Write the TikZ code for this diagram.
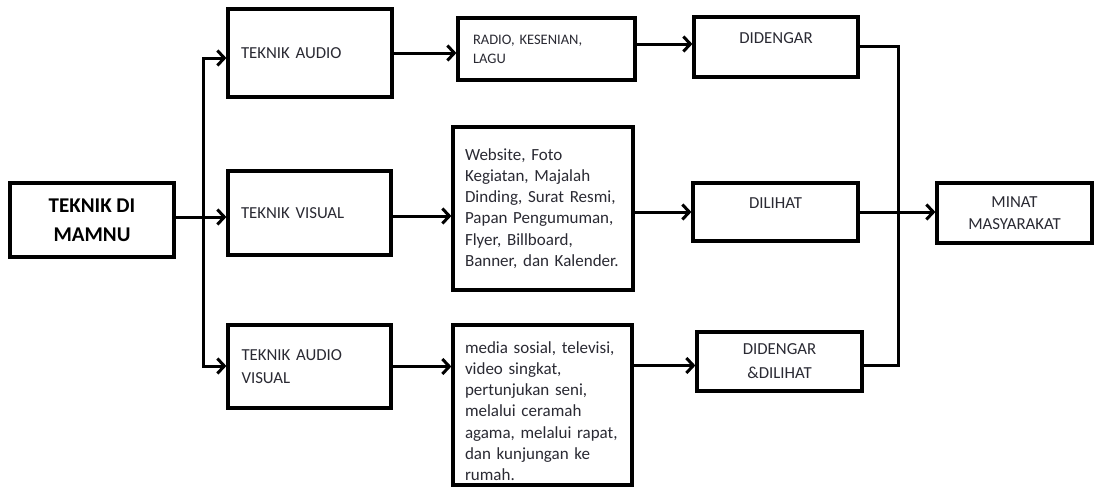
\documentclass[tikz,border=0pt]{standalone}
\usepackage{fontspec}
\setmainfont{Carlito}
\usetikzlibrary{arrows.meta}
\definecolor{ink}{HTML}{2A2A33}
\begin{document}
\begin{tikzpicture}[x=1pt,y=-1pt,
  box/.style={draw=black, line width=3.2pt, inner ysep=0pt, text=ink},
  lbox/.style 2 args={box, minimum width=#1, minimum height=#2, align=left},
  cbox/.style 2 args={box, minimum width=#1, minimum height=#2, align=center},
  lbl/.style={font=\fontsize{16.8}{22.5}\selectfont},
  small/.style={font=\fontsize{14.5}{19}\selectfont},
  list/.style={font=\fontsize{17}{21.3}\selectfont},
  wire/.style={line width=3pt, draw=black},
  arr/.style={wire, -{Straight Barb[length=7pt,width=15pt]}},
  darr/.style={wire, {Straight Barb[length=7pt,width=15pt]}-{Straight Barb[length=7pt,width=15pt]}}]
\fill[white] (0,0) rectangle (1095,493);
\useasboundingbox (0,0) rectangle (1095,493);

% source
\node[cbox={164pt}{74pt}, text=black, font=\bfseries\fontsize{21}{29}\selectfont] (mamnu) at (92,220) {TEKNIK DI\\MAMNU};

% techniques
\node[lbox={164pt}{88pt}, lbl, inner xsep=13pt, text width=138pt] (taudio) at (310,53) {TEKNIK AUDIO};
\node[lbox={163pt}{84pt}, lbl, inner xsep=13pt, text width=137pt] (tvis) at (309.5,213) {TEKNIK VISUAL};
\node[lbox={163pt}{83pt}, lbl, inner xsep=13.5pt, text width=136pt, font=\fontsize{16.8}{23}\selectfont] (tav) at (309.5,366.5) {TEKNIK AUDIO\\VISUAL};

% media
\node[lbox={177pt}{62pt}, small, inner xsep=15pt, text width=147pt] (radio) at (546.5,49) {RADIO, KESENIAN,\\LAGU};
\node[lbox={180pt}{163pt}, list, inner xsep=12pt, text width=156pt] (web) at (543,208.5)
  {Website, Foto\\Kegiatan, Majalah\\Dinding, Surat Resmi,\\Papan Pengumuman,\\Flyer, Billboard,\\Banner, dan Kalender.};
\node[lbox={179pt}{160pt}, list, inner xsep=12pt, text width=155pt, text height=24pt] (media) at (542.5,405)
  {media sosial, televisi,\\video singkat,\\pertunjukan seni,\\melalui ceramah\\agama, melalui rapat,\\dan kunjungan ke\\rumah.};

% reception
\node[cbox={164pt}{60pt}, lbl, text height=12pt, text depth=20pt] (didengar) at (776,47) {DIDENGAR};
\node[cbox={165pt}{58pt}, lbl, text height=12pt, text depth=20pt] (dilihat) at (775.5,212) {DILIHAT};
\node[cbox={165pt}{59pt}, font=\fontsize{16.8}{24}\selectfont] (dd) at (779.5,361.5) {DIDENGAR\\\&DILIHAT};

% outcome
\node[cbox={155pt}{60pt}, font=\fontsize{16.8}{22}\selectfont] (minat) at (1014.5,213) {MINAT\\MASYARAKAT};

% branching trunk
\coordinate (jt) at (203,58);
\coordinate (jb) at (203,366);
\draw[darr] (jt -| taudio.west) -- (jt) -- (jb) -- (jb -| tav.west);
\draw[arr] ([yshift=3pt]mamnu.east) -- ([yshift=3pt]mamnu.east -| tvis.west);

% technique to media
\draw[arr] (taudio.east) -- (taudio.east -| radio.west);
\draw[arr] ([yshift=-3pt]tvis.east) -- ([yshift=-3pt]tvis.east -| web.west);
\draw[arr] (tav.east) -- (tav.east -| media.west);

% media to reception
\draw[arr] ([yshift=3pt]didengar.west -| radio.east) -- ([yshift=3pt]didengar.west);
\draw[arr] (dilihat.west -| web.east) -- (dilihat.west);
\draw[arr] ([yshift=-4pt]dd.west -| media.east) -- ([yshift=-4pt]dd.west);

% collector
\coordinate (rt) at (898,46);
\coordinate (rb) at (898,365);
\draw[wire] (rt -| didengar.east) -- (rt) -- (rb) -- (rb -| dd.east);
\draw[arr] (dilihat.east) -- (dilihat.east -| minat.west);
\end{tikzpicture}
\end{document}
